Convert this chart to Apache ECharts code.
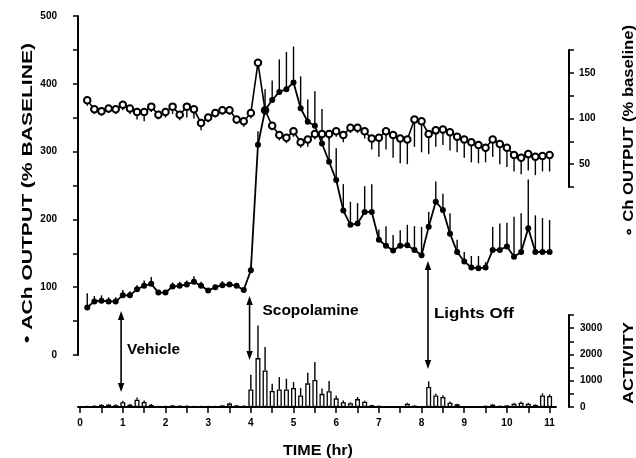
<!DOCTYPE html>
<html>
<head>
<meta charset="utf-8">
<title>ACh / Ch output and activity</title>
<script src="https://cdn.jsdelivr.net/npm/echarts@6/dist/echarts.min.js"></script>
<style>
  html, body { margin: 0; background: #fff; }
  #main { width: 636px; height: 458px; }
</style>
</head>
<body>
<div id="main"></div>
<script>
// sample times (minutes from start, 10 min bins)
var sampleMin = [10, 20, 30, 40, 50, 60, 70, 80, 90, 100, 110, 120, 130, 140, 150, 160, 170, 180, 190, 200, 210, 220, 230, 240,
  250, 260, 270, 280, 290, 300, 310, 320, 330, 340, 350, 360, 370, 380, 390, 400, 410, 420, 430, 440, 450, 460, 470, 480,
  490, 500, 510, 520, 530, 540, 550, 560, 570, 580, 590, 600, 610, 620, 630, 640, 650, 660];

// ACh output, % baseline (filled circles) and SEM
var achValues = [70, 79, 80, 79, 79, 88, 88, 97, 102, 105, 92, 92, 101, 102, 104, 108, 102, 95, 100, 103, 104, 102, 96, 125,
  310, 361, 376, 388, 392, 402, 364, 344, 338, 312, 285, 258, 213, 192, 194, 211, 211, 170, 161, 154, 161, 162, 155, 147,
  189, 226, 214, 179, 152, 138, 129, 128, 129, 155, 155, 160, 145, 152, 187, 152, 152, 152];
var achSem = [21, 8, 8, 6, 6, 8, 6, 6, 8, 10, 4, 4, 6, 6, 6, 8, 6, 4, 4, 6, 4, 4, 4, 6,
  20, 31, 29, 48, 55, 53, 47, 33, 51, 51, 36, 47, 39, 34, 30, 38, 41, 15, 29, 23, 23, 30, 35, 42,
  22, 30, 24, 30, 18, 14, 17, 18, 8, 34, 39, 35, 59, 57, 72, 54, 50, 47];

// Ch output, % baseline (open circles) and SEM
var chValues = [120, 110, 108, 111, 110, 115, 111, 107, 107, 113, 104, 107, 113, 104, 113, 110, 95, 101, 106, 109, 109, 99, 97, 106,
  161, 109, 92, 82, 79, 86, 74, 77, 83, 83, 83, 86, 82, 90, 90, 86, 78, 79, 86, 82, 78, 77, 99, 97,
  83, 87, 88, 85, 80, 77, 74, 71, 68, 77, 72, 68, 60, 57, 61, 58, 59, 60];
var chSem = [6, 5, 5, 5, 5, 6, 6, 8, 10, 6, 5, 6, 8, 6, 12, 10, 8, 5, 5, 5, 5, 5, 6, 6,
  5, 5, 5, 6, 6, 6, 6, 8, 6, 6, 6, 6, 8, 6, 6, 8, 12, 21, 20, 25, 27, 27, 30, 34,
  22, 18, 17, 20, 17, 20, 22, 20, 16, 19, 22, 21, 18, 18, 18, 20, 17, 18];

// motor activity counts (open bars) and SEM
var actValues = [30, 40, 80, 90, 70, 180, 90, 280, 190, 80, 30, 30, 60, 50, 40, 30, 30, 30, 30, 60, 130, 60, 40, 670,
  1860, 1390, 610, 670, 670, 720, 440, 900, 1030, 500, 600, 330, 180, 140, 300, 200, 70, 40, 30, 30, 30, 125, 50, 30,
  760, 440, 380, 165, 100, 30, 30, 30, 40, 90, 40, 60, 125, 165, 125, 80, 440, 420];
var actSem = [20, 20, 30, 30, 30, 60, 30, 80, 60, 30, 20, 20, 20, 20, 20, 20, 20, 20, 20, 20, 40, 20, 20, 560,
  1240, 890, 270, 470, 405, 230, 280, 400, 680, 200, 390, 110, 70, 40, 80, 40, 20, 10, 10, 10, 10, 40, 20, 10,
  215, 60, 70, 40, 20, 10, 10, 10, 10, 30, 10, 20, 40, 40, 40, 20, 80, 60];

// axis ticks and labels
var hourLabels = [0, 1, 2, 3, 4, 5, 6, 7, 8, 9, 10, 11];
var halfHourTicks = [0, 0.5, 1, 1.5, 2, 2.5, 3, 3.5, 4, 4.5, 5, 5.5, 6, 6.5, 7, 7.5, 8, 8.5, 9, 9.5, 10, 10.5, 11];
var achTicks = [0, 50, 100, 150, 200, 250, 300, 350, 400, 450, 500];
var achLabels = [0, 100, 200, 300, 400, 500];
var chTicks = [25, 50, 75, 100, 125, 150, 175];
var chLabels = [50, 100, 150];
var actTicks = [0, 500, 1000, 1500, 2000, 2500, 3000, 3500];
var actLabels = [0, 1000, 2000, 3000];

// treatments
var eventNames = ['Vehicle', 'Scopolamine', 'Lights Off'];
var eventHours = [0.96, 3.97, 8.15];

var F = 'Liberation Sans';
var hours = sampleMin.map(function (m) { return m / 60; });

function pairs(vals) {
  return hours.map(function (t, i) { return [t, vals[i]]; });
}
function bars(vals, sem, sign) {
  return hours.map(function (t, i) { return [t, vals[i], vals[i] + sign * sem[i]]; });
}
function errBar(params, api) {
  var a = api.coord([api.value(0), api.value(1)]);
  var b = api.coord([api.value(0), api.value(2)]);
  return {
    type: 'line',
    shape: { x1: a[0], y1: a[1], x2: b[0], y2: b[1] },
    style: { stroke: '#000', lineWidth: 1.4 }
  };
}
function plain(v) { return String(v); }

function yAx(grid, pos, min, max, ticks, labels, margin, offset) {
  return {
    gridIndex: grid, type: 'value', position: pos, offset: offset || 0,
    min: min, max: max,
    axisLine: { show: true, onZero: false, lineStyle: { color: '#000', width: 2 } },
    axisTick: { show: true, customValues: ticks, length: 5, lineStyle: { color: '#000', width: 1.5 } },
    axisLabel: { customValues: labels, formatter: plain, color: '#000', fontFamily: F, fontWeight: 'bold', fontSize: 10, margin: margin },
    splitLine: { show: false }
  };
}

var xMin = -0.05, xMax = 11.15;
var chart = echarts.init(document.getElementById('main'));

var option = {
  backgroundColor: '#fff',
  animation: false,
  grid: [
    { left: 78, right: 80, top: 16, height: 339 },   // ACh
    { left: 78, right: 80, top: 50, height: 137 },   // Ch
    { left: 78, right: 80, top: 315, height: 92 }    // activity
  ],
  xAxis: [
    { gridIndex: 0, type: 'value', min: xMin, max: xMax, show: false },
    { gridIndex: 1, type: 'value', min: xMin, max: xMax, show: false },
    {
      gridIndex: 2, type: 'value', min: xMin, max: xMax,
      axisLine: { onZero: false, lineStyle: { color: '#000', width: 2 } },
      axisTick: { customValues: halfHourTicks, length: 6, lineStyle: { color: '#000', width: 1.5 } },
      axisLabel: { customValues: hourLabels, color: '#000', fontFamily: F, fontWeight: 'bold', fontSize: 10, margin: 11 },
      splitLine: { show: false }
    }
  ],
  yAxis: [
    yAx(0, 'left', 0, 500, achTicks, achLabels, 21),
    yAx(1, 'right', 25, 175, chTicks, chLabels, 10, 13),
    yAx(2, 'right', 0, 3500, actTicks, actLabels, 11, 13)
  ],
  series: [
    {
      type: 'custom', xAxisIndex: 1, yAxisIndex: 1, clip: false, z: 1,
      renderItem: errBar, data: bars(chValues, chSem, -1)
    },
    {
      type: 'line', xAxisIndex: 1, yAxisIndex: 1, z: 3,
      data: pairs(chValues), showAllSymbol: true,
      symbol: 'emptyCircle', symbolSize: 6.5,
      itemStyle: { color: '#000', borderWidth: 1.5 },
      lineStyle: { color: '#000', width: 1.6 }
    },
    {
      type: 'custom', xAxisIndex: 0, yAxisIndex: 0, clip: false, z: 2,
      renderItem: errBar, data: bars(achValues, achSem, 1)
    },
    {
      type: 'line', xAxisIndex: 0, yAxisIndex: 0, z: 4,
      data: pairs(achValues), showAllSymbol: true,
      symbol: 'circle', symbolSize: 6,
      itemStyle: { color: '#000' },
      lineStyle: { color: '#000', width: 1.8 }
    },
    {
      type: 'bar', xAxisIndex: 2, yAxisIndex: 2, barWidth: 5, z: 2,
      data: pairs(actValues),
      itemStyle: { color: '#fff', borderColor: '#000', borderWidth: 1.3 }
    },
    {
      type: 'custom', xAxisIndex: 2, yAxisIndex: 2, clip: false, z: 3,
      renderItem: errBar, data: bars(actValues, actSem, 1)
    }
  ]
};
chart.setOption(option);

// stretch a text to the width it has in the figure
var ctx = document.createElement('canvas').getContext('2d');
function fit(text, size, width) {
  ctx.font = 'bold ' + size + 'px "' + F + '"';
  return width / ctx.measureText(text).width;
}
function label(text, x, y, size, width, rot) {
  return {
    type: 'text', x: x, y: y, rotation: rot || 0, scaleX: fit(text, size, width),
    style: { text: text, fill: '#000', fontFamily: F, fontWeight: 'bold', fontSize: size, align: rot ? 'center' : 'left', verticalAlign: 'middle' }
  };
}

var graphics = [
  label('\u2022 ACh OUTPUT (% BASELINE)', 28, 193, 14, 300, Math.PI / 2),
  label('\u2218 Ch OUTPUT (% baseline)', 629, 131, 14, 212, Math.PI / 2),
  label('ACTIVITY', 629, 363, 14, 82, Math.PI / 2),
  label('TIME (hr)', 283, 451, 14, 70)
];

// arrows: top / bottom pixel ends, label offset
var arrowEnds = [[311, 392], [296, 360], [261, 369]];
var labelAt = [[6, 350, 53], [13, 311, 96], [6, 314, 80]];
eventHours.forEach(function (t, i) {
  var x = chart.convertToPixel({ xAxisIndex: 0 }, t);
  var y0 = arrowEnds[i][0], y1 = arrowEnds[i][1];
  graphics.push({ type: 'line', shape: { x1: x, y1: y0 + 6, x2: x, y2: y1 - 6 }, style: { stroke: '#000', lineWidth: 1.6 } });
  graphics.push({ type: 'polygon', shape: { points: [[x, y0], [x - 3.2, y0 + 9], [x + 3.2, y0 + 9]] }, style: { fill: '#000' } });
  graphics.push({ type: 'polygon', shape: { points: [[x, y1], [x - 3.2, y1 - 9], [x + 3.2, y1 - 9]] }, style: { fill: '#000' } });
  graphics.push(label(eventNames[i], x + labelAt[i][0], labelAt[i][1], 15, labelAt[i][2]));
});

chart.setOption({ graphic: graphics });
</script>
</body>
</html>
